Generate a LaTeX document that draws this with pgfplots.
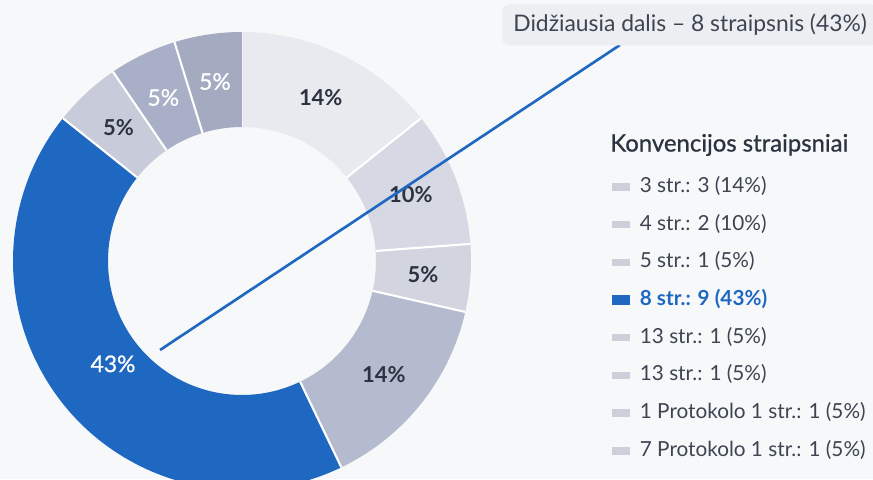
\documentclass[border=0pt]{standalone}
\usepackage{fontspec}
\setmainfont{Lato}
\newfontfamily\titlefont[FakeBold=0.8]{Lato}
\usepackage{pgfplots}
\usepackage{pgfplotstable}
\pgfplotsset{compat=1.18}

\definecolor{bg}{HTML}{F7F8FA}
\definecolor{c0}{HTML}{E8EAEF}
\definecolor{c1}{HTML}{D6D9E3}
\definecolor{c2}{HTML}{D2D5E0}
\definecolor{c3}{HTML}{B5BBCF}
\definecolor{c4}{HTML}{1F68C1}
\definecolor{c5}{HTML}{C8CCDA}
\definecolor{c6}{HTML}{A9AFC6}
\definecolor{c7}{HTML}{A4AAC0}
\definecolor{mk}{HTML}{CDD0DA}
\definecolor{txt}{HTML}{3D4552}
\definecolor{dark}{HTML}{2C3340}
\definecolor{boxbg}{HTML}{ECEEF2}

% slices clockwise from 12 o'clock: value, percent label, label radius (cm), white label?
\pgfplotstableread{
v pct lr   lw
3 14  3.63 0
2 10  3.63 0
1 5   3.63 0
3 14  3.63 0
9 43  3.30 1
1 5   3.63 0
1 5   3.63 1
1 5   3.63 1
}\slices

% angles of the slices
\def\tot{0}%
\pgfplotsforeachungrouped \i in {0,...,7}{%
  \pgfplotstablegetelem{\i}{v}\of\slices
  \pgfmathsetmacro\tot{\tot+\pgfplotsretval}}%
\def\cum{0}%
\pgfplotsforeachungrouped \i in {0,...,7}{%
  \pgfplotstablegetelem{\i}{v}\of\slices
  \pgfmathsetmacro\sa{90-\cum*360/\tot}%
  \pgfmathsetmacro\cum{\cum+\pgfplotsretval}%
  \pgfmathsetmacro\sb{90-\cum*360/\tot}%
  \pgfmathsetmacro\sm{(\sa+\sb)/2}%
  \expandafter\xdef\csname sa\i\endcsname{\sa}%
  \expandafter\xdef\csname sb\i\endcsname{\sb}%
  \expandafter\xdef\csname sm\i\endcsname{\sm}%
  \pgfplotstablegetelem{\i}{pct}\of\slices
  \expandafter\xdef\csname sp\i\endcsname{\pgfplotsretval}%
  \pgfplotstablegetelem{\i}{lr}\of\slices
  \expandafter\xdef\csname sr\i\endcsname{\pgfplotsretval}%
  \pgfplotstablegetelem{\i}{lw}\of\slices
  \expandafter\xdef\csname sw\i\endcsname{\pgfplotsretval}%
}%

\tikzset{
  lbld/.style={font=\bfseries\fontsize{12.5}{14}\selectfont, text=dark},
  lblw/.style={font=\titlefont\fontsize{13}{15}\selectfont, text=white},
}

\begin{document}
\begin{tikzpicture}
\begin{axis}[
  hide axis,
  x=1cm, y=1cm,
  xmin=0, xmax=17.46, ymin=0, ymax=9.58,
  clip=true,
  legend cell align=left,
  legend image code/.code={\fill[#1, draw=none] (0cm,-0.075cm) rectangle (0.36cm,0.075cm);},
  legend style={at={(0.7005,0.6325)}, anchor=north west, draw=none, fill=none,
    inner sep=0pt, row sep=0.334cm, font=\fontsize{11.8}{14}\selectfont, text=txt,
    nodes={inner ysep=0pt, inner xsep=0.05cm, text height=0.32cm, text depth=0.1cm},
    /tikz/every odd column/.style={column sep=0.15cm}},
]
\fill[bg] (axis cs:0,0) rectangle (axis cs:17.46,9.58);

\pgfplotsinvokeforeach{0,...,7}{%
  \edef\temp{\noexpand\fill[c#1, shift={(axis cs:4.84,4.36)}]
    (\csname sa#1\endcsname:4.58cm)
    arc[start angle=\csname sa#1\endcsname, end angle=\csname sb#1\endcsname, radius=4.58cm]
    -- (\csname sb#1\endcsname:2.68cm)
    arc[start angle=\csname sb#1\endcsname, end angle=\csname sa#1\endcsname, radius=2.68cm]
    -- cycle;
    \noexpand\draw[white, line width=1.2pt, shift={(axis cs:4.84,4.36)}]
    (\csname sa#1\endcsname:2.68cm) -- (\csname sa#1\endcsname:4.58cm);}%
  \temp}

\pgfplotsinvokeforeach{0,...,7}{%
  \edef\temp{\noexpand\node[\ifnum\csname sw#1\endcsname=1 lblw\else lbld\fi,
    shift={(axis cs:4.84,4.36)}] at (\csname sm#1\endcsname:\csname sr#1\endcsname cm)
    {\csname sp#1\endcsname\noexpand\%};}%
  \temp}

\draw[c4, line width=1.5pt] (axis cs:3.2,2.58) -- (axis cs:12.4,8.68);

\node[fill=boxbg, rounded corners=4pt, anchor=west, minimum height=0.82cm,
  inner xsep=0.22cm, text=txt, font=\fontsize{13}{15}\selectfont]
  at (axis cs:10.04,9.08) {Didžiausia dalis – 8 straipsnis (43\%)};

\node[anchor=west, inner sep=0pt, text=dark, font=\titlefont\fontsize{13.6}{16}\selectfont]
  at (axis cs:12.2,6.68) {Konvencijos straipsniai};

\addlegendimage{fill=mk}\addlegendentry{3 str.: 3 (14\%)}
\addlegendimage{fill=mk}\addlegendentry{4 str.: 2 (10\%)}
\addlegendimage{fill=mk}\addlegendentry{5 str.: 1 (5\%)}
\addlegendimage{fill=c4, yscale=1.4}\addlegendentry{\textcolor{c4}{\bfseries 8 str.: 9 (43\%)}}
\addlegendimage{fill=mk}\addlegendentry{13 str.: 1 (5\%)}
\addlegendimage{fill=mk}\addlegendentry{13 str.: 1 (5\%)}
\addlegendimage{fill=mk}\addlegendentry{1 Protokolo 1 str.: 1 (5\%)}
\addlegendimage{fill=mk}\addlegendentry{7 Protokolo 1 str.: 1 (5\%)}
\end{axis}
\pgfresetboundingbox
\path[use as bounding box] (current axis.south west) rectangle (current axis.north east);
\end{tikzpicture}
\end{document}
